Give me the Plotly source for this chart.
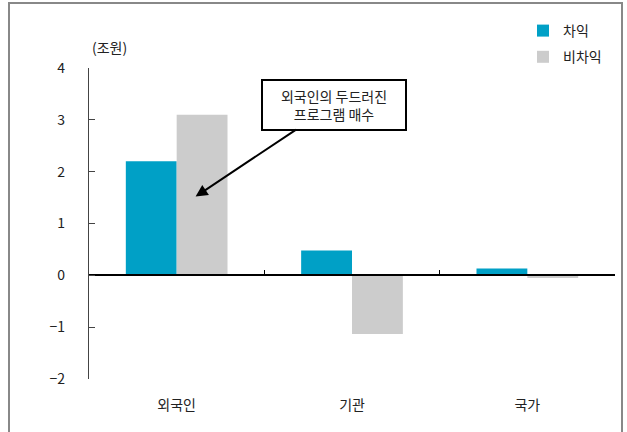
import plotly.graph_objects as go

categories = ["외국인", "기관", "국가"]
arb = [2.2, 0.48, 0.13]
nonarb = [3.1, -1.13, -0.05]
y_ticks = [-2, -1, 0, 1, 2, 3, 4]
series_names = ["차익", "비차익"]

FONT = "Noto Sans CJK KR, Dotum, sans-serif"
W, H = 627, 432
L, R, T, B = 89, 12, 68, 53
pw, ph = W - L - R, H - T - B

fig = go.Figure()
fig.add_trace(go.Bar(x=categories, y=arb, name=series_names[0], marker_color="#00A0C6",
                     marker_line_width=0, legendgroup="a"))
fig.add_trace(go.Bar(x=categories, y=nonarb, name=series_names[1], marker_color="#CCCCCC",
                     marker_line_width=0, legendgroup="b"))
# helper trace so the zero-line axis (with boundary ticks) is drawn
fig.add_trace(go.Scatter(x=categories, y=[0] * len(categories), xaxis="x2", mode="markers",
                         marker=dict(opacity=0), showlegend=False, hoverinfo="skip"))

ymin, ymax = -2, 4
fig.update_layout(
    width=W, height=H,
    margin=dict(l=L, r=R, t=T, b=B, autoexpand=False),
    paper_bgcolor="white", plot_bgcolor="white",
    font=dict(family=FONT, size=14, color="#222"),
    barmode="group", bargap=0.42, bargroupgap=0,
    showlegend=True,
    legend=dict(x=(523 - L) / pw, y=(379 - 15) / ph, xanchor="left", yanchor="top",
                traceorder="grouped", tracegroupgap=5, font=dict(size=14),
                bgcolor="rgba(0,0,0,0)"),
    xaxis=dict(showline=False, showgrid=False, zeroline=False, ticks="",
               tickfont=dict(size=14), ticklabelstandoff=16),
    xaxis2=dict(overlaying="x", matches="x", anchor="free",
                position=(0 - ymin) / (ymax - ymin),
                showline=True, linecolor="black", linewidth=1.5,
                ticks="inside", tickson="boundaries", ticklen=5, tickcolor="black",
                tickwidth=1.2, showticklabels=False, showgrid=False, zeroline=False),
    yaxis=dict(range=[ymin, ymax], tickvals=y_ticks, showline=True, linecolor="#444",
               linewidth=1.2, ticks="inside", ticklen=6, tickcolor="#444", showgrid=False,
               zeroline=False, tickfont=dict(size=14), ticklabelstandoff=20),
)

fig.add_annotation(xref="paper", yref="paper", x=(90 - L) / pw, y=(379 - 47) / ph,
                   text="(조원)", showarrow=False, xanchor="left", yanchor="middle",
                   font=dict(size=14))

fig.add_annotation(x=0.108, y=1.52, xref="x", yref="y",
                   text="외국인의 두드러진<br>프로그램 매수",
                   showarrow=True, arrowhead=2, arrowsize=1.2, arrowwidth=2, arrowcolor="black",
                   ax=138, ay=-92, bordercolor="black", borderwidth=2, bgcolor="white",
                   borderpad=5, width=132, font=dict(size=14), align="center")

# outer frame
fig.add_shape(type="rect", xref="paper", yref="paper",
              x0=(9 - L) / pw, x1=(622 - L) / pw, y0=(379 - 445) / ph, y1=(379 - 3) / ph,
              line=dict(color="#888", width=2), fillcolor="rgba(0,0,0,0)", layer="below")

fig.write_html("out.html", config={"displayModeBar": False},
               post_script="document.body.style.margin='0';")
